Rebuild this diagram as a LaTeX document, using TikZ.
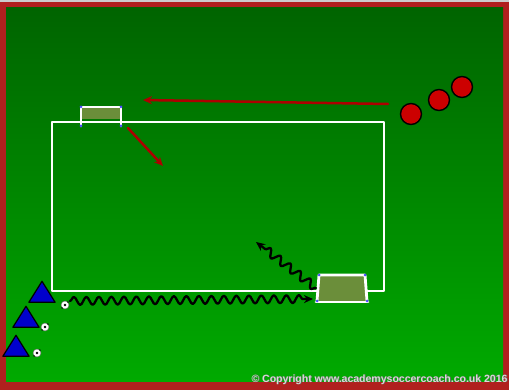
\documentclass[tikz,border=0pt]{standalone}
\usepackage{fontspec}
\setsansfont{Liberation Sans}
\usetikzlibrary{arrows.meta, decorations.pathmorphing, shapes.geometric, positioning}
\definecolor{pitchtop}{HTML}{006400}
\definecolor{pitchbot}{HTML}{00AA00}
\definecolor{frame}{HTML}{B0201E}
\definecolor{goalfill}{HTML}{6B8E3A}
\definecolor{conered}{HTML}{CC0000}
\definecolor{coneblue}{HTML}{0000CC}
\tikzset{
  >={Stealth[length=9pt, width=8pt]},
  every picture/.style={line cap=round, line join=round},
  % field markings
  line/.style={white, line width=2.8pt},
  % players and cones
  opp/.style={circle, draw=black, line width=1.4pt, fill=conered, minimum size=21pt, inner sep=0pt},
  cone/.style={isosceles triangle, isosceles triangle apex angle=64, shape border rotate=90,
               draw=black, line width=1.2pt, fill=coneblue, minimum height=21pt, inner sep=0pt},
  ball/.style={circle, draw=black!60, fill=white, minimum size=8pt, inner sep=0pt},
  pass/.style={->, conered!85!black, line width=2.5pt},
  dribble/.style={->, black, line width=2.3pt,
                  decorate, decoration={snake, segment length=12.5pt, amplitude=4pt, post length=8pt}},
}
\begin{document}
\begin{tikzpicture}[x=1pt, y=-1pt]
  % ---- background: red frame and shaded pitch
  \fill[frame] (0,0) rectangle (509,390);
  \shade[top color=pitchtop, bottom color=pitchbot] (6,8) rectangle (503,381);
  \fill[gray!40] (0,0) rectangle (509,2);
  \useasboundingbox (0,0) rectangle (509,390);
  % ---- playing area
  \draw[line] (52,122) rectangle (384,291);
  % ---- top goal
  \fill[goalfill] (82,108) rectangle (120,119);
  \draw[line] (81,126) -- (81,107) -- (121,107) -- (121,126);
  \foreach \p in {(81,107),(121,107),(81,126),(121,126)}
    \fill[blue!70] \p circle (1.5pt);
  % ---- bottom goal
  \fill[goalfill] (319,275) -- (365,275) -- (367,301) -- (317,301) -- cycle;
  \draw[line] (319,275) -- (365,275) -- (367,301);
  \draw[line] (319,275) -- (317,301);
  \draw[line] (316,302) -- (368,302);
  \foreach \p in {(319,275),(365,275),(317,301),(367,301)}
    \fill[blue!70] \p circle (1.5pt);
  % ---- opponents (red)
  \node[opp] (r1) at (411,114) {};
  \node[opp] (r2) at (439,100) {};
  \node[opp] (r3) at (462,87) {};
  % ---- cones and balls
  \node[cone] (c1) at (42,295) {};
  \node[cone] (c2) at (26,320) {};
  \node[cone] (c3) at (16,349) {};
  \node[ball] (b1) at (65,305) {};
  \node[ball] (b2) at (45,327) {};
  \node[ball] (b3) at (37,353) {};
  \foreach \b in {b1,b2,b3} {
    \fill[black] (\b.center) circle (1.3pt);
    \fill[black] (\b.north east) circle (0.8pt);
    \fill[black] (\b.south west) circle (0.8pt);
  }
  % ---- movements
  \coordinate (passA) at (388,104);
  \coordinate (passB) at (143,100);
  \coordinate (runA) at (128,128);
  \coordinate (runB) at (163,166);
  \coordinate (drA) at (70,301);
  \coordinate (drB) at (313,299);
  \coordinate (shA) at (316,288);
  \coordinate (shB) at (256,242);
  \draw[pass] (passA) -- (passB);
  \draw[pass] (runA) -- (runB);
  \draw[dribble] (drA) -- (drB);
  \draw[dribble] (shA) -- (shB);
  % ---- copyright
  \node[anchor=west, font=\sffamily\bfseries\fontsize{10.5}{11}\selectfont, text=black!60] (cpy) at (248.8,380.2)
    {\textcopyright{} Copyright www.academysoccercoach.co.uk 2016};
  \node[anchor=west, font=\sffamily\bfseries\fontsize{10.5}{11}\selectfont, text=white!85!black] (cp) at (248,379.4)
    {\textcopyright{} Copyright www.academysoccercoach.co.uk 2016};
\end{tikzpicture}
\end{document}
